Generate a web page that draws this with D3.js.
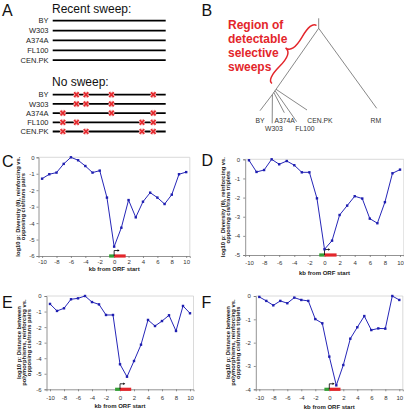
<!DOCTYPE html>
<html><head><meta charset="utf-8">
<script src="https://cdn.jsdelivr.net/npm/d3@7"></script>
<style>body{margin:0;background:#fff}svg{display:block;font-family:"Liberation Sans",Arial,sans-serif}</style>
</head><body><svg id="c" width="404" height="411"></svg>
<script>
// ---------- data ----------
const kb = d3.range(-10, 11);
const xTickLabels = [-10,-8,-6,-4,-2,0,2,4,6,8,10];
const valuesC = [-1.3,-1.03,-0.93,-0.4,0,-0.18,-0.53,-0.93,-0.81,-2.45,-5.43,-4.28,-2.6,-3.65,-2.7,-2.15,-2.45,-2.84,-2.27,-1.03,-0.9];
const valuesD = [-0.05,-0.66,-0.56,0,-0.26,-0.09,-0.31,-0.68,-0.68,-2.04,-4.7,-4.25,-2.91,-2.42,-1.93,-2.05,-3.1,-3.34,-2.24,-0.73,-0.54];
const valuesE = [-0.51,-0.96,-0.79,-0.21,-0.15,0,-0.39,-0.54,-1.22,-1.22,-4.39,-5.19,-4.18,-3.13,-1.54,-1.93,-1.61,-1.24,-2.25,-0.64,-1.11];
const valuesF = [-0.04,-0.21,-0.4,-0.21,-0.31,-0.07,-0.17,-0.21,-0.99,-1.17,-2.6,-3.83,-2.96,-1.83,-1.34,-0.86,-1.46,-1.39,-1.4,0,-0.17];
const yTicksC = [0,-1,-2,-3,-4,-5,-6];
const yTicksD = [0,-1,-2,-3,-4,-5];
const yTicksE = [0,-1,-2,-3,-4,-5,-6];
const yTicksF = [0,-1,-2,-3,-4];
const titleC = ["log10 p: Diversity (\u03b8), reinforcing vs.","opposing cis/trans pairs"];
const titleD = ["log10 p: Diversity (\u03b8), reinforcing vs.","opposing cis/trans triplets"];
const titleE = ["log10 p: Distance between","polymorphisms, reinforcing vs.","opposing cis/trans pairs"];
const titleF = ["log10 p: Distance between","polymorphisms, reinforcing vs.","opposing cis/trans triplets"];
const xTitle = "kb from ORF start";
const geneStart = -0.7, geneTSS = 0, geneEnd = 1.6;

const strains = ["BY","W303","A374A","FL100","CEN.PK"];
const sitePositions = [9,21,29.5,52,79,89];
const noSweepSites = [[1,2,3,5],[1,2,3],[0,3,5],[0,1,4,5],[0,2,4,5]];
const treeLabels = ["BY","W303","A374A","FL100","CEN.PK","RM"];
const braceText = ["Region of","detectable","selective","sweeps"];

// ---------- drawing ----------
const svg = d3.select("#c");
const RED = "#e3262b";

// panel letters
[["A",2,15.5],["B",201.5,15.5],["C",2,166.5],["D",201.5,165.5],["E",2,307.5],["F",201.5,307.5]].forEach(([t,x,y])=>{
  svg.append("text").attr("x",x).attr("y",y).attr("font-size",16).attr("fill","#111").text(t);
});

// ----- Panel A -----
const lineX = d3.scaleLinear().domain([0,100]).range([52.7,165.7]);
const recentY = d3.scalePoint().domain(strains).range([20.7,60.2]);
const noY = d3.scalePoint().domain(strains).range([94.7,131.5]);
svg.append("text").attr("x",52).attr("y",12.7).attr("font-size",12).attr("fill","#111").text("Recent sweep:");
svg.append("text").attr("x",52).attr("y",85.5).attr("font-size",12).attr("fill","#111").text("No sweep:");
[recentY,noY].forEach(sc=>{
  const g = svg.append("g");
  g.selectAll("line").data(strains).join("line")
    .attr("x1",lineX(0)).attr("x2",lineX(100)).attr("y1",d=>sc(d)).attr("y2",d=>sc(d))
    .attr("stroke","#000").attr("stroke-width",1.8);
  g.selectAll("text").data(strains).join("text")
    .attr("x",48.5).attr("y",d=>sc(d)).attr("dy","0.36em").attr("text-anchor","end")
    .attr("font-size",7.5).attr("fill","#222").text(d=>d);
});
strains.forEach((s,i)=>{
  noSweepSites[i].forEach(k=>{
    const cx = lineX(sitePositions[k]), cy = noY(s), r = 2.3;
    const p = `M${cx-r},${cy-r}L${cx+r},${cy+r}M${cx+r},${cy-r}L${cx-r},${cy+r}`;
    svg.append("path").attr("d",p).attr("stroke","#f6b3b3").attr("stroke-width",3.4).attr("fill","none");
    svg.append("path").attr("d",p).attr("stroke",RED).attr("stroke-width",1.6).attr("fill","none");
  });
});

// ----- Panel B -----
const tg = svg.append("g").attr("stroke","#555").attr("stroke-width",0.7).attr("fill","none");
const N1 = [318.7,28.3], N2 = [276,89.3], N3 = [272.4,94.5];
const seg = (a,b)=>tg.append("line").attr("x1",a[0]).attr("y1",a[1]).attr("x2",b[0]).attr("y2",b[1]);
seg([318.7,18.3],N1);
seg(N1,[376.7,108.3]);
seg(N1,N3);
seg([276,89.3],[307,110]);      // CEN.PK
seg([275,90.7],[296.7,121.7]);  // FL100
seg([273.8,92.5],[284.3,112.7]);// A374A
seg(N3,[260,110.7]);            // BY
seg(N3,[272.2,123.3]);          // W303
const labPos = [[260,122.5],[274,130.7],[284.7,122.5],[305,130.7],[320,122.5],[375.8,122.5]];
svg.append("g").selectAll("text").data(treeLabels).join("text")
  .attr("x",(d,i)=>labPos[i][0]).attr("y",(d,i)=>labPos[i][1]).attr("text-anchor","middle")
  .attr("font-size",6.8).attr("fill","#333").text(d=>d);
function brace(x1,y1,x2,y2,w,q){
  let dx=x1-x2, dy=y1-y2; const len=Math.sqrt(dx*dx+dy*dy); dx/=len; dy/=len;
  const qx1=x1+q*w*dy, qy1=y1-q*w*dx;
  const qx2=(x1-.25*len*dx)+(1-q)*w*dy, qy2=(y1-.25*len*dy)-(1-q)*w*dx;
  const tx1=(x1-.5*len*dx)+w*dy, ty1=(y1-.5*len*dy)-w*dx;
  const qx3=x2-q*w*dy*-1, qy3=y2+q*w*dx*-1;
  const qx4=(x1-.75*len*dx)+(1-q)*w*dy, qy4=(y1-.75*len*dy)-(1-q)*w*dx;
  return `M${x1},${y1}Q${qx1},${qy1} ${qx2},${qy2}T${tx1},${ty1}M${x2},${y2}Q${qx3},${qy3} ${qx4},${qy4}T${tx1},${ty1}`;
}
svg.append("path").attr("d",brace(316.5,25.5,272,83.5,11,0.6)).attr("stroke",RED).attr("stroke-width",1.5).attr("fill","none");
svg.append("g").selectAll("text").data(braceText).join("text")
  .attr("x",228).attr("y",(d,i)=>29.3+i*13.9).attr("font-size",12).attr("font-weight","bold")
  .attr("fill",RED).text(d=>d);

// ----- Panels C-F -----
function plot(cfg, values, yTicks, title){
  const x = d3.scaleLinear().domain([-10.5,10.5]).range([cfg.left,cfg.right]);
  const y = d3.scaleLinear().domain([cfg.yMin,0]).range([cfg.bottom,cfg.top]);
  const g = svg.append("g");
  g.append("path").attr("d",`M${cfg.left},${cfg.top}H${cfg.right}V${cfg.bottom}`)
    .attr("fill","none").attr("stroke","#d0d0d0").attr("stroke-width",0.8);
  const ya = g.append("g").attr("transform",`translate(${cfg.left},0)`)
    .call(d3.axisLeft(y).tickValues(yTicks).tickSize(2).tickPadding(cfg.yPad).tickFormat(d=>String(d)));
  const xa = g.append("g").attr("transform",`translate(0,${cfg.bottom})`)
    .call(d3.axisBottom(x).tickValues(xTickLabels).tickSize(2).tickPadding(0).tickFormat(d=>String(d)));
  [ya,xa].forEach(a=>{
    a.selectAll("path,line").attr("stroke","#777").attr("stroke-width",0.8);
    a.selectAll("text").attr("font-size",6).attr("fill","#333").attr("font-family",null);
  });
  xa.selectAll("text").attr("dy",null).attr("y",cfg.xLab);
  g.append("text").attr("x",x(0)).attr("y",cfg.bottom+cfg.xTit).attr("text-anchor","middle")
    .attr("font-size",6).attr("font-weight","bold").attr("fill","#222").text(xTitle);
  const cy = (cfg.top+cfg.bottom)/2, n = title.length;
  title.forEach((t,i)=>{
    const bx = cfg.titleX - (n-1-i)*5.3;
    g.append("text").attr("transform",`translate(${bx},${cy}) rotate(-90)`).attr("text-anchor","middle")
      .attr("font-size",5.8).attr("font-weight","bold").attr("fill","#222").text(t);
  });
  // gene icon
  g.append("rect").attr("x",x(geneStart)).attr("width",x(geneTSS)-x(geneStart)).attr("y",cfg.bottom-1.6).attr("height",3.2).attr("fill","#35a035");
  g.append("rect").attr("x",x(geneTSS)).attr("width",x(geneEnd)-x(geneTSS)).attr("y",cfg.bottom-1.6).attr("height",3.2).attr("fill",RED);
  const ax = x(0), ay = cfg.bottom-5.5, ex = x(0.75);
  g.append("path").attr("d",`M${ax},${cfg.bottom}V${ay}H${ex-1.5}`).attr("stroke","#000").attr("stroke-width",0.8).attr("fill","none");
  g.append("path").attr("d",`M${ex},${ay}l-2,-1.3v2.6z`).attr("fill","#000");
  // series
  const data = kb.map((k,i)=>({k,v:values[i]}));
  g.append("path").datum(data).attr("fill","none").attr("stroke","#2626b8").attr("stroke-width",1)
    .attr("d",d3.line().x(d=>x(d.k)).y(d=>y(d.v)));
  g.selectAll("rect.pt").data(data).join("rect").attr("class","pt")
    .attr("x",d=>x(d.k)-1.2).attr("y",d=>y(d.v)-1.2).attr("width",2.4).attr("height",2.4).attr("fill","#1e1eb0");
}
plot({left:38.5,right:189.8,top:157.3,bottom:256,yMin:-6,yPad:2,xLab:8.3,xTit:14.5,titleX:25.3},valuesC,yTicksC,titleC);
plot({left:245.2,right:403.8,top:159.3,bottom:255,yMin:-5,yPad:3,xLab:9.5,xTit:19.5,titleX:230.3},valuesD,yTicksD,titleD);
plot({left:46.5,right:193.5,top:296,bottom:389.3,yMin:-6,yPad:3,xLab:10.5,xTit:19,titleX:31.3},valuesE,yTicksE,titleE);
plot({left:255.8,right:402.8,top:296,bottom:389.3,yMin:-4,yPad:3,xLab:11,xTit:19.8,titleX:240.3},valuesF,yTicksF,titleF);
</script></body></html>
